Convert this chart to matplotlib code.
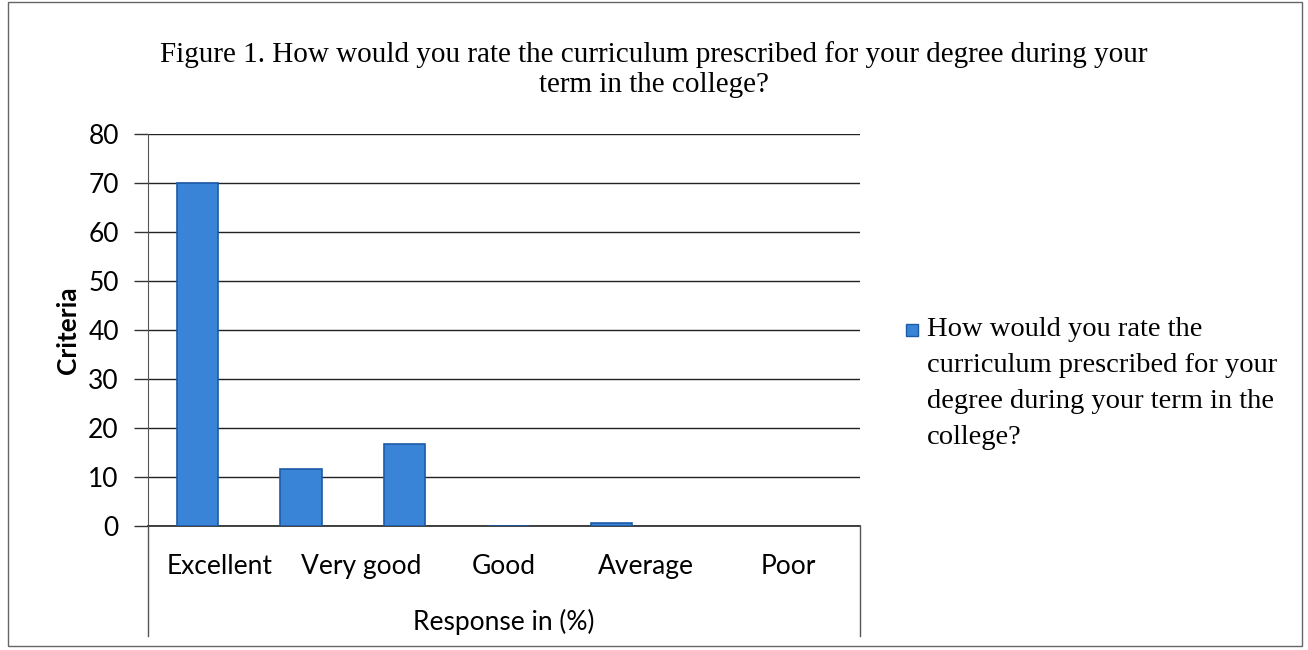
import numpy as np
import matplotlib
matplotlib.use("Agg")
import matplotlib.pyplot as plt
from matplotlib.patches import Rectangle
from matplotlib.lines import Line2D

categories = ["Excellent", "Very good", "Good", "Average", "Poor"]
values = [70, 11.7, 16.7, 0, 0.7]
yticks = [0, 10, 20, 30, 40, 50, 60, 70, 80]
title = ("Figure 1. How would you rate the curriculum prescribed for your degree during your\n"
         "term in the college?")
series_lines = ["How would you rate the", "curriculum prescribed for your",
                "degree during your term in the", "college?"]

W, H = 1308, 650
fig = plt.figure(figsize=(13.08, 6.5), dpi=100)
ax = fig.add_axes([148/W, 1-526/H, (860-148)/W, (526-134)/H])

# bars in the scan sit a bit left of their labels and closer together
idx = np.arange(len(categories))
bar_pos = idx*0.727 - 0.152
bar_col = "#3a84d8"
ax.bar(bar_pos, values, width=0.29, color=bar_col, edgecolor="#1d5aa8", linewidth=1.2, zorder=3)

ax.set_xlim(-0.5, 4.5)
ax.set_ylim(0, 80)
ax.set_yticks(yticks)
ax.set_xticks(idx)
ax.set_xticklabels(categories, fontsize=19, family="Lato")
ax.tick_params(axis="x", length=0, pad=20)
ax.tick_params(axis="y", length=10, width=1, color="#333333", pad=11)
for lbl in ax.get_yticklabels():
    lbl.set_fontsize(19)
    lbl.set_family("Lato")
ax.yaxis.grid(True, color="#222222", linewidth=1)
ax.set_axisbelow(True)
for s in ["top", "right"]:
    ax.spines[s].set_visible(False)
ax.spines["left"].set_color("#555555")
ax.spines["bottom"].set_color("#222222")
ax.spines["bottom"].set_linewidth(1.2)

ax.set_ylabel("Criteria", fontsize=19, family="Lato", fontweight="bold", labelpad=6)
ax.set_xlabel("Response in (%)", fontsize=19, family="Lato", labelpad=22)

# Excel-style category axis box below the plot
fig.add_artist(Line2D([148/W, 148/W], [1-636/H, 1-526/H], color="#555555", lw=1))
fig.add_artist(Line2D([860/W, 860/W], [1-636/H, 1-526/H], color="#555555", lw=1))

fig.text(0.5, 1-70/H, title, ha="center", va="center", fontsize=21,
         family="Liberation Serif", linespacing=1.2)

# legend: square key next to the first line of the series name
fig.add_artist(Rectangle((906/W, 1-336/H), 12/W, 12/H, transform=fig.transFigure,
                         fc=bar_col, ec="#1d5aa8", lw=1))
for i, line in enumerate(series_lines):
    fig.text(927/W, 1-(330 + 36*i)/H, line, ha="left", va="center", fontsize=20.5,
             family="Liberation Serif")

fig.add_artist(Rectangle((8/W, 4/H), 1-14/W, 1-6/H, transform=fig.transFigure,
                         fill=False, ec="#666666", lw=1))

fig.savefig("out.png", dpi=100)
